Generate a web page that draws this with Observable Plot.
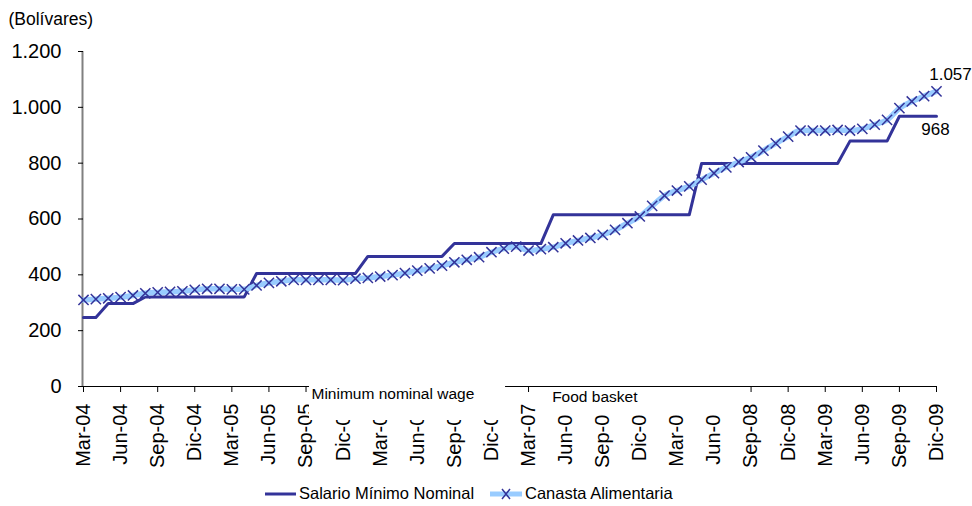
<!DOCTYPE html>
<html>
<head>
<meta charset="utf-8">
<script src="https://cdn.jsdelivr.net/npm/d3@7"></script>
<script src="https://cdn.jsdelivr.net/npm/@observablehq/plot@0.6"></script>
<style>
  body { margin: 0; background: #fff; font-family: "Liberation Sans", Arial, sans-serif; }
  #chart svg { display: block; }
  #legend { position: relative; height: 31px; font-size: 16.5px; color: #000; }
  .item { position: absolute; top: 9px; display: flex; align-items: center; white-space: nowrap; }
  .item svg { display: block; margin-right: 3px; }
</style>
</head>
<body>
<div id="chart"></div>
<div id="legend"></div>
<script>
// ---- Data ----
const tickLabels = ["Mar-04","Jun-04","Sep-04","Dic-04","Mar-05","Jun-05","Sep-05","Dic-05",
  "Mar-06","Jun-06","Sep-06","Dic-06","Mar-07","Jun-07","Sep-07","Dic-07",
  "Mar-08","Jun-08","Sep-08","Dic-08","Mar-09","Jun-09","Sep-09","Dic-09"];
const yTicks = [0, 200, 400, 600, 800, 1000, 1200];
const seriesNames = ["Salario Mínimo Nominal", "Canasta Alimentaria"];
// monthly, Mar-04 ... Dic-09 (70 months)
const salario = [
  247, 247, 297, 297, 297, 321, 321, 321, 321, 321, 321, 321, 321, 321,
  405, 405, 405, 405, 405, 405, 405, 405, 405,
  466, 466, 466, 466, 466, 466, 466,
  512, 512, 512, 512, 512, 512, 512, 512,
  615, 615, 615, 615, 615, 615, 615, 615, 615, 615, 615, 615,
  799, 799, 799, 799, 799, 799, 799, 799, 799, 799, 799, 799,
  879, 879, 879, 879,
  968, 968, 968, 968
];
const canasta = [
  310, 313, 316, 320, 326, 334, 337, 339, 341, 346, 350, 350, 348, 348,
  362, 371, 377, 382, 382, 382, 382, 381, 386, 389, 394, 399, 406, 415,
  423, 433, 445, 454, 463, 481, 494, 501, 487, 492, 499, 513, 523, 532,
  543, 561, 585, 609, 647, 684, 702, 717, 741, 764, 785, 804, 821, 845,
  871, 895, 917, 917, 917, 919, 917, 923, 938, 955, 997, 1021, 1040, 1057
];
const endLabels = ["1.057", "968"];
const annotations = ["Minimum nominal wage", "Food basket"];

// ---- Build ----
const navy = "#333399";
const lightBlue = "#99ccff";
const fmt = d => d3.format(",")(d).replace(/,/g, ".");
const wageRows = salario.map((v, i) => ({i, v}));
const basketRows = canasta.map((v, i) => ({i, v}));
const tickIdx = tickLabels.map((_, k) => k * 3);
const last = salario.length - 1;

const plot = Plot.plot({
  width: 972,
  height: 475,
  marginTop: 51,
  marginLeft: 83,
  marginRight: 36,
  marginBottom: 89,
  style: {fontFamily: "'Liberation Sans', Arial, sans-serif", fontSize: "20px", color: "#000", background: "#fff", overflow: "visible"},
  x: {type: "linear", domain: [0, last]},
  y: {domain: [0, 1200]},
  marks: [
    Plot.ruleY([0], {stroke: "#000", strokeWidth: 1}),
    Plot.ruleX([0], {stroke: "#808080", strokeWidth: 2, dx: -1}),
    Plot.axisY({ticks: yTicks, tickFormat: fmt, tickSize: 5, tickPadding: 17, label: null, stroke: "#000", fontSize: 20}),
    Plot.axisX({ticks: tickIdx, tickFormat: d => tickLabels[Math.round(d / 3)], tickRotate: -90, tickSize: 6, tickPadding: 11, label: null, fontSize: 20}),
    Plot.line(wageRows, {x: "i", y: "v", stroke: navy, strokeWidth: 3}),
    Plot.line(basketRows, {x: "i", y: "v", stroke: lightBlue, strokeWidth: 5.5, curve: "monotone-x"}),
    Plot.dot(basketRows, {x: "i", y: "v", symbol: "times", r: 4.7, stroke: navy, strokeWidth: 1.5}),
    // white annotation boxes overlaying the axis
    Plot.rect([{x1: 18.28, x2: 34.14}], {x1: "x1", x2: "x2", fill: "#fff", insetTop: 327, insetBottom: -34}),
    Plot.rect([{x1: 37.1, x2: 53.2}], {x1: "x1", x2: "x2", fill: "#fff", insetTop: 336, insetBottom: -29}),
    Plot.text([{x: 18.28, t: annotations[0]}], {x: "x", text: "t", frameAnchor: "bottom", textAnchor: "start", dx: 2, dy: 12, fontSize: 15.5}),
    Plot.text([{x: 37.1, t: annotations[1]}], {x: "x", text: "t", frameAnchor: "bottom", textAnchor: "start", dx: 10, dy: 15, fontSize: 15.5}),
    // end labels
    Plot.text([{i: last, v: canasta[last], t: endLabels[0]}], {x: "i", y: "v", text: "t", dx: 14, dy: -17, fontSize: 17}),
    Plot.text([{i: last, v: salario[last], t: endLabels[1]}], {x: "i", y: "v", text: "t", dx: -1, dy: 13, fontSize: 17}),
    // unit label
    Plot.text(["(Bolívares)"], {frameAnchor: "top-left", textAnchor: "start", dx: -75, dy: -39, fontSize: 17.5})
  ]
});
document.getElementById("chart").appendChild(plot);

// ---- Legend ----
const legend = document.getElementById("legend");
const items = [
  {name: seriesNames[0], left: 265, w: 31, draw: g => {
    g.append("line").attr("x1", 0).attr("x2", 31).attr("y1", 6).attr("y2", 6).attr("stroke", navy).attr("stroke-width", 3);
  }},
  {name: seriesNames[1], left: 490, w: 32, draw: g => {
    g.append("line").attr("x1", 0).attr("x2", 32).attr("y1", 6).attr("y2", 6).attr("stroke", lightBlue).attr("stroke-width", 5);
    g.append("path").attr("d", "M12,1L20,11M20,1L12,11").attr("stroke", navy).attr("stroke-width", 1.5);
  }}
];
for (const it of items) {
  const div = d3.select(legend).append("div").attr("class", "item").style("left", it.left + "px");
  const s = div.append("svg").attr("width", it.w).attr("height", 12);
  it.draw(s);
  div.append("span").text(it.name);
}
</script>
</body>
</html>
